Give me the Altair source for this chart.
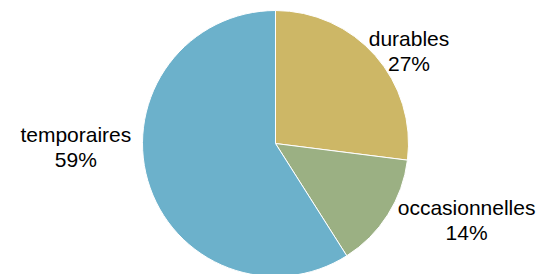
import altair as alt
import pandas as pd
import math

categories = ["durables", "occasionnelles", "temporaires"]
shares = [27, 14, 59]
colors = ["#CDB766", "#9BB083", "#6CB1CB"]

df = pd.DataFrame({
    "cat": categories,
    "share": shares,
    "idx": list(range(len(categories))),
})
df["label"] = df["cat"] + "\n" + df["share"].astype(str) + "%"

CX, CY, R = 267.5, 135.5, 133

arcs = alt.Chart(df).mark_arc(radius=R, stroke="white", strokeWidth=1).encode(
    theta=alt.Theta("share:Q", stack=True),
    order=alt.Order("idx:Q", sort="ascending"),
    color=alt.Color("cat:N", scale=alt.Scale(domain=categories, range=colors), legend=None),
    x=alt.value(CX),
    y=alt.value(CY),
)

lab_base = alt.Chart(df).transform_window(
    cum="sum(share)", sort=[alt.SortField("idx", order="ascending")]
).transform_joinaggregate(
    total="sum(share)"
).transform_calculate(
    mid="(datum.cum - datum.share / 2) / datum.total"
)

offsets = {
    "durables": (13.5, 2),
    "occasionnelles": (56, -20),
    "temporaires": (-46, -52),
}

layers = [arcs]
for c in categories:
    dx, dy = offsets[c]
    layers.append(
        lab_base.transform_filter(alt.datum.cat == c).mark_text(
            radius=160, dx=dx, dy=dy, font="Liberation Sans", fontSize=21,
            lineBreak="\n", lineHeight=25, align="center", baseline="middle", color="black"
        ).encode(
            theta=alt.Theta("mid:Q", stack=None, scale=alt.Scale(domain=[0, 1], range=[0, 2 * math.pi])),
            text="label:N",
            x=alt.value(CX),
            y=alt.value(CY),
        )
    )

chart = alt.layer(*layers).resolve_scale(theta="independent").properties(
    width=528, height=266, autosize="none", padding=0
).configure_view(stroke=None)

chart.save("out.html", embed_options={"renderer": "svg", "actions": False})
